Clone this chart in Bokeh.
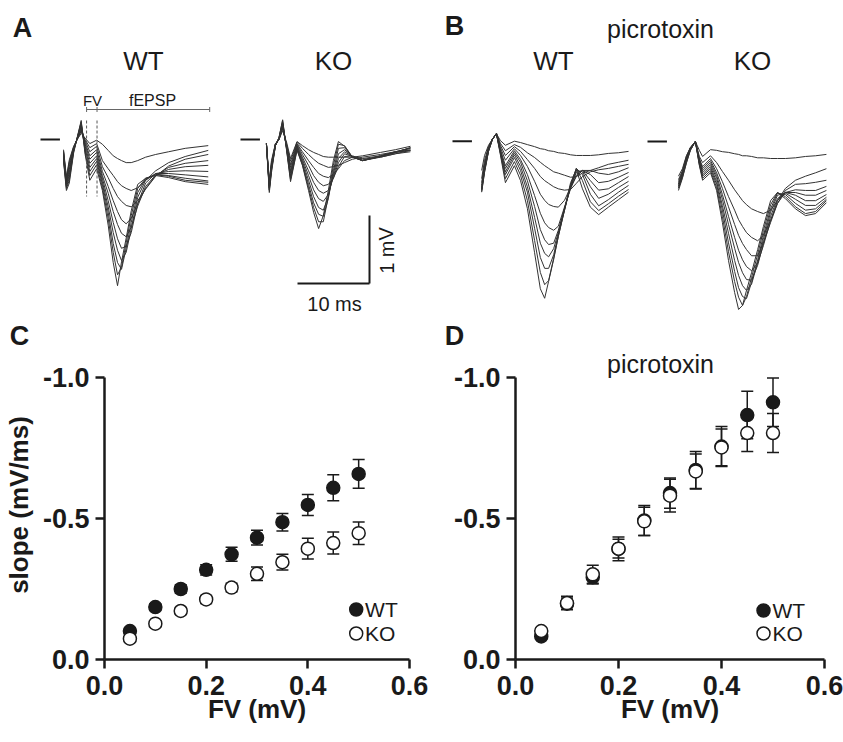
from bokeh.plotting import figure
from bokeh.layouts import column, row
from bokeh.models import Range1d, Label, FixedTicker, PrintfTickFormatter
from bokeh.embed import file_html
from bokeh.resources import INLINE

FONT = "Liberation Sans"
INK = "#1a1a1a"
TRACE = "#333333"

# ---------------- panel C / D data (slope vs fibre volley) ----------------
FV_MV = [0.05, 0.10, 0.15, 0.20, 0.25, 0.30, 0.35, 0.40, 0.45, 0.50]
C_WT = [-0.101, -0.186, -0.250, -0.318, -0.373, -0.432, -0.487, -0.548, -0.609, -0.658]
C_WT_SEM = [0.010, 0.012, 0.015, 0.018, 0.025, 0.026, 0.031, 0.037, 0.046, 0.051]
C_KO = [-0.074, -0.127, -0.172, -0.213, -0.255, -0.304, -0.345, -0.393, -0.413, -0.448]
C_KO_SEM = [0.008, 0.010, 0.012, 0.014, 0.015, 0.024, 0.028, 0.037, 0.039, 0.040]
D_WT = [-0.082, -0.198, -0.292, -0.392, -0.493, -0.590, -0.672, -0.755, -0.867, -0.912]
D_WT_SEM = [0.010, 0.020, 0.024, 0.042, 0.053, 0.054, 0.066, 0.071, 0.084, 0.086]
D_KO = [-0.101, -0.200, -0.302, -0.393, -0.490, -0.581, -0.667, -0.752, -0.803, -0.803]
D_KO_SEM = [0.010, 0.024, 0.032, 0.033, 0.050, 0.058, 0.062, 0.065, 0.065, 0.069]
X_TICKS = [0.0, 0.2, 0.4, 0.6]
Y_TICKS = [0.0, -0.5, -1.0]

# ---------------- panel A / B field potential traces (ms, mV) ----------------
A_WT_T = [3.2, 3.6, 4.0, 4.6, 5.1, 5.65, 6.2, 6.85, 7.8, 8.6, 9.4, 10.1, 10.7, 11.25,
          11.9, 12.6, 13.5, 14.6, 16.0, 17.8, 20.1, 23.3]
A_WT = [
    [-0.15, -0.55, -0.30, -0.10, 0.00, 0.09, 0.02, -0.06, -0.01, -0.07, -0.16, -0.24, -0.28, -0.31, -0.34, -0.34, -0.31, -0.26, -0.22, -0.18, -0.13, -0.09],
    [-0.17, -0.58, -0.33, -0.11, 0.00, 0.12, 0.00, -0.12, -0.06, -0.31, -0.43, -0.53, -0.62, -0.68, -0.72, -0.75, -0.71, -0.60, -0.46, -0.34, -0.25, -0.16],
    [-0.18, -0.60, -0.36, -0.12, 0.01, 0.13, -0.02, -0.18, -0.10, -0.40, -0.56, -0.72, -0.84, -0.91, -0.97, -0.99, -0.90, -0.73, -0.54, -0.39, -0.29, -0.22],
    [-0.20, -0.62, -0.40, -0.13, 0.01, 0.15, -0.05, -0.24, -0.15, -0.47, -0.69, -0.90, -1.06, -1.18, -1.24, -1.16, -0.94, -0.72, -0.53, -0.41, -0.35, -0.31],
    [-0.22, -0.64, -0.44, -0.14, 0.01, 0.18, -0.07, -0.29, -0.19, -0.53, -0.79, -1.06, -1.25, -1.38, -1.43, -1.29, -0.98, -0.69, -0.52, -0.44, -0.40, -0.38],
    [-0.24, -0.66, -0.48, -0.15, 0.02, 0.19, -0.10, -0.35, -0.24, -0.57, -0.90, -1.22, -1.46, -1.60, -1.57, -1.37, -0.94, -0.64, -0.50, -0.47, -0.46, -0.47],
    [-0.26, -0.68, -0.52, -0.16, 0.02, 0.22, -0.13, -0.41, -0.28, -0.62, -0.99, -1.37, -1.63, -1.78, -1.66, -1.31, -0.85, -0.60, -0.50, -0.50, -0.52, -0.55],
    [-0.28, -0.70, -0.56, -0.17, 0.02, 0.24, -0.16, -0.47, -0.32, -0.66, -1.07, -1.53, -1.81, -1.91, -1.60, -1.22, -0.78, -0.58, -0.51, -0.53, -0.57, -0.61],
    [-0.30, -0.72, -0.60, -0.18, 0.03, 0.26, -0.19, -0.53, -0.37, -0.71, -1.16, -1.66, -1.99, -1.88, -1.52, -1.12, -0.72, -0.57, -0.52, -0.54, -0.60, -0.63],
    [-0.32, -0.75, -0.64, -0.20, 0.03, 0.28, -0.22, -0.60, -0.43, -0.75, -1.26, -1.81, -2.15, -1.80, -1.45, -1.05, -0.66, -0.57, -0.53, -0.56, -0.62, -0.66],
]

A_KO_T = [3.6, 4.0, 4.3, 4.85, 5.35, 5.85, 6.4, 6.95, 7.85, 8.6, 9.45, 10.15, 10.85, 11.5,
          12.2, 12.9, 13.6, 14.45, 15.55, 16.95, 19.45, 21.5, 23.6]
A_KO = [
    [-0.06, -0.60, -0.31, -0.06, 0.00, 0.13, -0.04, -0.28, -0.03, -0.09, -0.15, -0.19, -0.22, -0.25, -0.26, -0.26, -0.26, -0.26, -0.26, -0.24, -0.19, -0.15, -0.10],
    [-0.06, -0.63, -0.34, -0.07, 0.00, 0.16, -0.07, -0.32, -0.04, -0.13, -0.22, -0.29, -0.35, -0.38, -0.41, -0.40, -0.38, -0.34, -0.29, -0.26, -0.22, -0.18, -0.16],
    [-0.06, -0.66, -0.37, -0.07, 0.00, 0.18, -0.09, -0.37, -0.06, -0.18, -0.31, -0.41, -0.50, -0.54, -0.56, -0.51, -0.43, -0.31, -0.26, -0.28, -0.24, -0.19, -0.12],
    [-0.06, -0.68, -0.38, -0.07, 0.01, 0.19, -0.10, -0.41, -0.07, -0.22, -0.38, -0.53, -0.63, -0.68, -0.66, -0.57, -0.40, -0.25, -0.24, -0.29, -0.26, -0.21, -0.18],
    [-0.06, -0.69, -0.40, -0.07, 0.01, 0.21, -0.10, -0.46, -0.09, -0.26, -0.46, -0.63, -0.75, -0.79, -0.75, -0.57, -0.34, -0.21, -0.25, -0.31, -0.25, -0.19, -0.15],
    [-0.06, -0.71, -0.41, -0.09, 0.01, 0.22, -0.12, -0.49, -0.10, -0.29, -0.53, -0.74, -0.87, -0.91, -0.81, -0.54, -0.28, -0.18, -0.25, -0.31, -0.26, -0.21, -0.16],
    [-0.06, -0.72, -0.43, -0.09, 0.01, 0.24, -0.13, -0.53, -0.12, -0.32, -0.60, -0.84, -1.00, -1.04, -0.84, -0.50, -0.21, -0.15, -0.25, -0.31, -0.25, -0.19, -0.12],
    [-0.06, -0.74, -0.44, -0.09, 0.03, 0.25, -0.13, -0.56, -0.13, -0.35, -0.66, -0.93, -1.10, -1.13, -0.87, -0.46, -0.13, -0.12, -0.26, -0.31, -0.24, -0.18, -0.13],
    [-0.06, -0.75, -0.46, -0.09, 0.03, 0.28, -0.15, -0.59, -0.15, -0.37, -0.71, -1.00, -1.21, -1.21, -0.84, -0.38, -0.07, -0.09, -0.26, -0.31, -0.25, -0.19, -0.16],
    [-0.06, -0.78, -0.49, -0.09, 0.03, 0.29, -0.16, -0.62, -0.16, -0.38, -0.75, -1.07, -1.31, -1.12, -0.75, -0.31, -0.03, -0.10, -0.26, -0.31, -0.24, -0.18, -0.13],
]

B_WT_T = [4.05, 4.45, 5.0, 5.55, 6.1, 6.65, 7.35, 8.6, 9.45, 10.4, 11.4, 12.2, 12.8, 13.35,
          14.05, 14.7, 15.55, 16.4, 17.2, 18.05, 19.15, 20.3, 21.65, 23.05, 24.45]
B_WT = [
    [-0.43, -0.21, -0.06, 0.03, 0.11, 0.01, -0.06, 0.00, -0.02, -0.05, -0.08, -0.11, -0.12, -0.14, -0.15, -0.17, -0.18, -0.20, -0.21, -0.21, -0.21, -0.20, -0.18, -0.17, -0.15],
    [-0.55, -0.28, -0.08, 0.03, 0.11, -0.03, -0.14, -0.05, -0.09, -0.17, -0.24, -0.31, -0.36, -0.40, -0.45, -0.47, -0.50, -0.53, -0.52, -0.47, -0.43, -0.39, -0.34, -0.31, -0.28],
    [-0.61, -0.33, -0.09, 0.03, 0.11, -0.06, -0.21, -0.08, -0.15, -0.27, -0.40, -0.52, -0.58, -0.62, -0.67, -0.70, -0.72, -0.71, -0.62, -0.52, -0.45, -0.42, -0.40, -0.37, -0.34],
    [-0.65, -0.36, -0.11, 0.03, 0.11, -0.09, -0.28, -0.11, -0.21, -0.37, -0.59, -0.78, -0.87, -0.93, -0.96, -0.97, -0.87, -0.68, -0.52, -0.43, -0.43, -0.47, -0.49, -0.45, -0.39],
    [-0.68, -0.39, -0.12, 0.03, 0.11, -0.12, -0.36, -0.14, -0.27, -0.49, -0.80, -1.06, -1.20, -1.27, -1.31, -1.25, -0.97, -0.70, -0.50, -0.43, -0.49, -0.61, -0.59, -0.53, -0.46],
    [-0.70, -0.40, -0.12, 0.03, 0.11, -0.14, -0.40, -0.17, -0.31, -0.58, -0.96, -1.30, -1.45, -1.52, -1.50, -1.31, -0.99, -0.68, -0.46, -0.43, -0.58, -0.72, -0.70, -0.61, -0.52],
    [-0.71, -0.42, -0.14, 0.03, 0.11, -0.15, -0.45, -0.20, -0.37, -0.67, -1.12, -1.50, -1.65, -1.70, -1.58, -1.34, -1.00, -0.67, -0.43, -0.45, -0.67, -0.84, -0.78, -0.68, -0.59],
    [-0.72, -0.43, -0.14, 0.03, 0.11, -0.17, -0.49, -0.24, -0.43, -0.75, -1.28, -1.71, -1.87, -1.87, -1.67, -1.37, -1.02, -0.65, -0.40, -0.49, -0.78, -0.95, -0.86, -0.75, -0.65],
    [-0.74, -0.45, -0.15, 0.03, 0.11, -0.18, -0.55, -0.30, -0.50, -0.87, -1.46, -1.93, -2.11, -2.05, -1.72, -1.40, -1.02, -0.64, -0.40, -0.58, -0.89, -1.02, -0.92, -0.81, -0.71],
    [-0.75, -0.46, -0.15, 0.03, 0.11, -0.20, -0.61, -0.36, -0.58, -0.99, -1.64, -2.17, -2.31, -2.06, -1.74, -1.40, -1.00, -0.61, -0.42, -0.70, -0.97, -1.08, -0.97, -0.86, -0.75],
]

B_KO_T = [4.3, 4.85, 5.4, 5.95, 6.65, 7.2, 7.65, 8.75, 9.6, 10.4, 11.25, 12.1, 12.65, 13.2,
          13.75, 14.45, 15.3, 16.1, 17.1, 18.05, 19.15, 20.55, 21.95, 23.35, 24.85]
B_KO = [
    [-0.51, -0.40, -0.21, -0.09, 0.00, -0.13, -0.22, -0.12, -0.13, -0.15, -0.16, -0.18, -0.19, -0.21, -0.21, -0.22, -0.24, -0.24, -0.25, -0.25, -0.25, -0.24, -0.22, -0.21, -0.19],
    [-0.56, -0.43, -0.22, -0.09, 0.00, -0.22, -0.31, -0.21, -0.31, -0.44, -0.57, -0.71, -0.79, -0.87, -0.93, -0.99, -1.03, -1.06, -1.01, -0.87, -0.69, -0.57, -0.51, -0.46, -0.40],
    [-0.59, -0.44, -0.24, -0.10, 0.00, -0.25, -0.37, -0.25, -0.40, -0.59, -0.81, -1.01, -1.15, -1.25, -1.34, -1.41, -1.46, -1.38, -1.16, -0.91, -0.72, -0.63, -0.62, -0.60, -0.57],
    [-0.62, -0.46, -0.25, -0.10, 0.00, -0.26, -0.40, -0.28, -0.46, -0.69, -0.96, -1.22, -1.38, -1.50, -1.59, -1.68, -1.68, -1.49, -1.19, -0.91, -0.75, -0.71, -0.72, -0.72, -0.66],
    [-0.63, -0.47, -0.25, -0.10, 0.00, -0.28, -0.43, -0.31, -0.50, -0.78, -1.10, -1.41, -1.60, -1.74, -1.84, -1.90, -1.79, -1.53, -1.16, -0.87, -0.75, -0.75, -0.79, -0.79, -0.72],
    [-0.65, -0.49, -0.26, -0.12, 0.00, -0.29, -0.46, -0.34, -0.54, -0.85, -1.22, -1.57, -1.78, -1.93, -2.03, -2.04, -1.82, -1.50, -1.10, -0.84, -0.75, -0.79, -0.87, -0.87, -0.78],
    [-0.66, -0.50, -0.28, -0.12, 0.00, -0.31, -0.49, -0.37, -0.59, -0.94, -1.35, -1.75, -1.97, -2.12, -2.19, -2.10, -1.78, -1.44, -1.04, -0.79, -0.76, -0.85, -0.94, -0.94, -0.82],
    [-0.68, -0.51, -0.29, -0.12, 0.00, -0.32, -0.51, -0.40, -0.63, -1.01, -1.49, -1.91, -2.15, -2.28, -2.31, -2.07, -1.74, -1.38, -0.99, -0.76, -0.78, -0.91, -1.01, -0.99, -0.85],
    [-0.69, -0.53, -0.31, -0.13, 0.00, -0.34, -0.54, -0.43, -0.68, -1.10, -1.62, -2.06, -2.29, -2.41, -2.28, -2.00, -1.66, -1.31, -0.93, -0.75, -0.81, -0.96, -1.06, -1.03, -0.87],
    [-0.72, -0.54, -0.32, -0.13, 0.00, -0.35, -0.57, -0.46, -0.72, -1.19, -1.75, -2.22, -2.47, -2.41, -2.19, -1.93, -1.59, -1.25, -0.87, -0.75, -0.84, -0.99, -1.09, -1.06, -0.90],
]

BASELINE_MS = 2.7            # pre-stimulus baseline stub
FV_WINDOW = [6.4, 7.85]      # ms, relative to WT trace origin in A
EPSP_WINDOW = [7.85, 23.5]
SCALE_MS = 10
SCALE_MV = 1

# ---------------- layout constants (page pixels) ----------------
PX_PER_MS = 7.2
PX_PER_MV = 68.0
PAGE_W, PAGE_H = 843, 742
TOP_H = 350


def tx(px):
    return px / PX_PER_MS


def ty(py):
    return (TOP_H - py) / PX_PER_MV


top = figure(width=PAGE_W, height=TOP_H, x_range=Range1d(0, PAGE_W / PX_PER_MS),
             y_range=Range1d(0, TOP_H / PX_PER_MV), output_backend="svg",
             toolbar_location=None, x_axis_location=None, y_axis_location=None,
             min_border=0, outline_line_color=None)
top.grid.visible = False

groups = [
    (A_WT_T, A_WT, 40, 139.0),
    (A_KO_T, A_KO, 240, 139.0),
    (B_WT_T, B_WT, 452, 140.7),
    (B_KO_T, B_KO, 647, 141.0),
]
for t, traces, opx, opy in groups:
    ox, oy = tx(opx), ty(opy)
    xs = [[ox + ti for ti in t] for _ in traces]
    ys = [[oy + v for v in tr] for tr in traces]
    top.multi_line(xs, ys, line_color=TRACE, line_width=1.0)
    top.segment(x0=[ox], y0=[oy], x1=[ox + BASELINE_MS], y1=[oy],
                line_color=INK, line_width=2)

# FV / fEPSP markers on the WT trace of A
ox = tx(40)
fv0, fv1 = ox + FV_WINDOW[0], ox + FV_WINDOW[1]
ep1 = ox + EPSP_WINDOW[1]
top.segment(x0=[fv0, fv1], y0=[ty(120), ty(120)], x1=[fv0, fv1], y1=[ty(196), ty(196)],
            line_color="#555555", line_width=1, line_dash="3 2")
yb = ty(109)
top.segment(x0=[fv0], y0=[yb], x1=[ep1], y1=[yb], line_color="#666666", line_width=1)
tick = 2.5 / PX_PER_MV
top.segment(x0=[fv0, fv1, ep1], y0=[yb - tick] * 3, x1=[fv0, fv1, ep1], y1=[yb + tick] * 3,
            line_color="#666666", line_width=1)

# scale bar
cx, cy = tx(369), ty(283)
top.segment(x0=[cx - SCALE_MS, cx], y0=[cy, cy], x1=[cx, cx], y1=[cy, cy + SCALE_MV],
            line_color=INK, line_width=2)


def add_top_label(text, px, py, size, bold=False, angle=0.0, align="center"):
    top.add_layout(Label(x=tx(px), y=ty(py), text=text, text_font=FONT,
                         text_font_size=size, text_font_style="bold" if bold else "normal",
                         text_align=align, text_baseline="middle", text_color=INK,
                         angle=angle))


add_top_label("A", 22, 27, "27px", bold=True)
add_top_label("WT", 143, 60, "26px")
add_top_label("KO", 333, 60, "26px")
add_top_label("FV", 92, 100, "15px")
add_top_label("fEPSP", 152, 100, "16px")
add_top_label("1 mV", 386, 250, "20px", angle=1.5708)
add_top_label("10 ms", 334, 303, "20px")
add_top_label("B", 454, 25, "27px", bold=True)
add_top_label("picrotoxin", 660, 28, "25px")
add_top_label("WT", 553, 60, "26px")
add_top_label("KO", 752, 60, "26px")
add_top_label("C", 19, 335, "27px", bold=True)
add_top_label("D", 454, 335, "27px", bold=True)

# ---------------- panels C and D ----------------
FRAME_W, FRAME_H = 309, 282
FRAME_BOTTOM = 659          # page y of slope 0
BOT_H = PAGE_H - TOP_H
BOTTOM_BORDER = PAGE_H - FRAME_BOTTOM
VIEW_TOP = -(FRAME_BOTTOM - TOP_H) / FRAME_H   # frame reaches the top of the row


def make_panel(page_x0, width, left, wt, wt_e, ko, ko_e, ylabel):
    right = width - left - FRAME_W
    frame_left = page_x0 + left
    p = figure(width=width, height=BOT_H, x_range=Range1d(0, 0.6),
               y_range=Range1d(0, VIEW_TOP),
               output_backend="svg", toolbar_location=None, min_border_left=left,
               min_border_right=right, min_border_top=0,
               min_border_bottom=BOTTOM_BORDER, outline_line_color=None)
    p.grid.visible = False
    for ax in (p.xaxis[0], p.yaxis[0]):
        ax.axis_line_width = 2.5
        ax.axis_line_color = INK
        ax.major_tick_line_width = 2.5
        ax.major_tick_line_color = INK
        ax.major_tick_out = 9
        ax.major_tick_in = 0
        ax.minor_tick_line_color = None
        ax.major_label_text_font = FONT
        ax.major_label_text_font_size = "27px"
        ax.major_label_text_font_style = "bold"
        ax.major_label_text_color = INK
        ax.axis_label_text_font = FONT
        ax.axis_label_text_font_size = "26px"
        ax.axis_label_text_font_style = "bold"
        ax.axis_label_text_color = INK
        ax.formatter = PrintfTickFormatter(format="%.1f")
    p.xaxis[0].ticker = FixedTicker(ticks=X_TICKS)
    p.yaxis[0].ticker = FixedTicker(ticks=Y_TICKS)
    p.yaxis[0].bounds = (-1.0, 0.0)
    p.xaxis[0].major_label_standoff = 7
    p.yaxis[0].major_label_standoff = 6
    p.xaxis[0].axis_label = "FV (mV)"
    p.xaxis[0].axis_label_standoff = -4
    if ylabel:
        p.yaxis[0].axis_label = "slope (mV/ms)"
        p.yaxis[0].axis_label_standoff = 6

    def bars(y, e):
        lo = [a - b for a, b in zip(y, e)]
        hi = [a + b for a, b in zip(y, e)]
        p.segment(x0=FV_MV, y0=lo, x1=FV_MV, y1=hi, line_color=INK, line_width=1.5)
        p.scatter(FV_MV, lo, marker="dash", size=12, line_color=INK, line_width=1.5)
        p.scatter(FV_MV, hi, marker="dash", size=12, line_color=INK, line_width=1.5)

    bars(wt, wt_e)
    bars(ko, ko_e)
    p.scatter(FV_MV, wt, marker="circle", size=13, fill_color=INK, line_color=INK, line_width=1.5)
    p.scatter(FV_MV, ko, marker="circle", size=13, fill_color="white", line_color=INK, line_width=1.5)

    def px2d(px, py):
        return ((px - frame_left) / FRAME_W * 0.6, -(FRAME_BOTTOM - py) / FRAME_H)

    return p, px2d


pc, c_xy = make_panel(0, 440, 100, C_WT, C_WT_SEM, C_KO, C_KO_SEM, True)
pd, d_xy = make_panel(440, 403, 75, D_WT, D_WT_SEM, D_KO, D_KO_SEM, False)


def add_label(p, conv, text, px, py, size, bold=False, align="center"):
    x, y = conv(px, py)
    p.add_layout(Label(x=x, y=y, text=text, text_font=FONT, text_font_size=size,
                       text_font_style="bold" if bold else "normal", text_align=align,
                       text_baseline="middle", text_color=INK))


def add_legend(p, conv, px, py_wt, py_ko):
    (x1, y1), (_, y2) = conv(px, py_wt), conv(px, py_ko)
    p.scatter([x1], [y1], marker="circle", size=13, fill_color=INK, line_color=INK, line_width=1.5)
    p.scatter([x1], [y2], marker="circle", size=13, fill_color="white", line_color=INK, line_width=1.5)
    add_label(p, conv, "WT", px + 9, py_wt, "21px", align="left")
    add_label(p, conv, "KO", px + 9, py_ko, "21px", align="left")


add_legend(pc, c_xy, 355, 609, 633)
add_label(pd, d_xy, "picrotoxin", 660, 363, "25px")
add_legend(pd, d_xy, 763, 610, 633)

layout = column(top, row(pc, pd))
open("out.html", "w").write(file_html(layout, INLINE))
